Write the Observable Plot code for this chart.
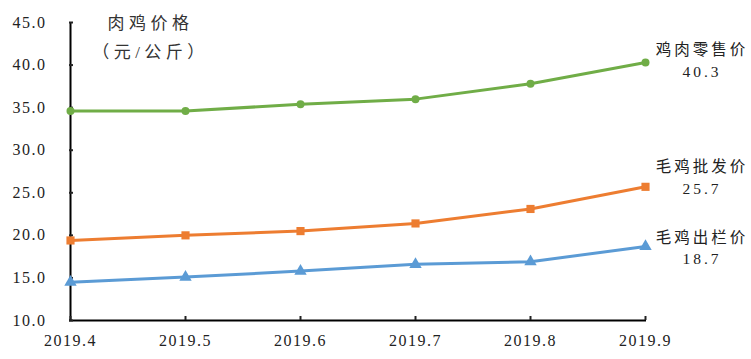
<!DOCTYPE html>
<html><head><meta charset="utf-8">
<script src="https://cdn.jsdelivr.net/npm/d3@7"></script>
<script src="https://cdn.jsdelivr.net/npm/@observablehq/plot@0.6"></script>
<style>
body{margin:0;background:#fff;}
svg text{font-family:"Liberation Serif","Noto Sans CJK SC",serif !important;}
g[aria-label="y-axis tick label"] text, g[aria-label="x-axis tick label"] text{letter-spacing:1.5px;font-variant-numeric:normal;}
</style></head>
<body><div id="chart"></div>
<script>
const months = ["2019.4","2019.5","2019.6","2019.7","2019.8","2019.9"];
const retail = [34.6, 34.6, 35.4, 36.0, 37.8, 40.3];
const wholesale = [19.4, 20.0, 20.5, 21.4, 23.1, 25.7];
const farmgate = [14.5, 15.1, 15.8, 16.6, 16.9, 18.7];
const seriesNames = ["鸡肉零售价", "毛鸡批发价", "毛鸡出栏价"];
const yTicks = [10, 15, 20, 25, 30, 35, 40, 45];
const titleText = "肉鸡价格\n（元/公斤）";

const FONT = "Liberation Serif, Noto Sans CJK SC, serif";
const colors = ["#70AD47", "#ED7D31", "#5B9BD5"];
const symbols = ["circle", "square", "triangle"];
const labelDy = [-3.5, -10.5, 0];
const allValues = [retail, wholesale, farmgate];

const rows = [];
allValues.forEach((vals, s) => vals.forEach((v, i) => rows.push({month: months[i], value: v, series: seriesNames[s]})));

const marks = [
  Plot.ruleY([10], {stroke: "#000", strokeWidth: 2}),
  Plot.ruleX([months[0]], {stroke: "#000", strokeWidth: 2}),
  Plot.axisY({ticks: yTicks, tickSize: 0, tickPadding: 23, tickFormat: d => d.toFixed(1), fontSize: 16, label: null}),
  Plot.axisY({ticks: yTicks, tickSize: -4, text: null, strokeWidth: 2, label: null}),
  Plot.axisX({tickSize: 0, tickPadding: 14, fontSize: 16, label: null}),
  Plot.axisX({tickSize: -4, text: null, strokeWidth: 2, label: null}),
  Plot.text([titleText], {frameAnchor: "top-left", dx: 81, dy: 11.5, textAnchor: "middle", lineAnchor: "middle", lineHeight: 1.7, fontSize: 17, fill: "#333"})
];
seriesNames.forEach((name, s) => {
  const data = rows.filter(r => r.series === name);
  marks.push(Plot.line(data, {x: "month", y: "value", stroke: colors[s], strokeWidth: 3}));
  marks.push(Plot.dot(data, {x: "month", y: "value", fill: colors[s], symbol: symbols[s], r: s === 0 ? 4 : 4.6}));
  const last = data[data.length - 1];
  marks.push(Plot.text([last], {x: "month", y: "value", text: d => `${d.series}\n${d.value.toFixed(1)}`, dx: 56.5, dy: labelDy[s], textAnchor: "middle", lineAnchor: "middle", lineHeight: 1.4, fontSize: 15.5, fill: "#222"}));
});

const chart = Plot.plot({
  width: 751, height: 359,
  marginLeft: 69, marginRight: 105, marginTop: 22, marginBottom: 39,
  x: {type: "point", domain: months, padding: 0, axis: null},
  y: {domain: [10, 45], axis: null},
  style: {background: "#fff", color: "#222", overflow: "visible", fontFamily: FONT},
  marks
});
const textGroups = chart.querySelectorAll('g[aria-label="text"]');
textGroups.forEach((g, i) => { g.style.letterSpacing = i === 0 ? "4.5px" : "3px"; });
document.getElementById("chart").appendChild(chart);
</script></body></html>
